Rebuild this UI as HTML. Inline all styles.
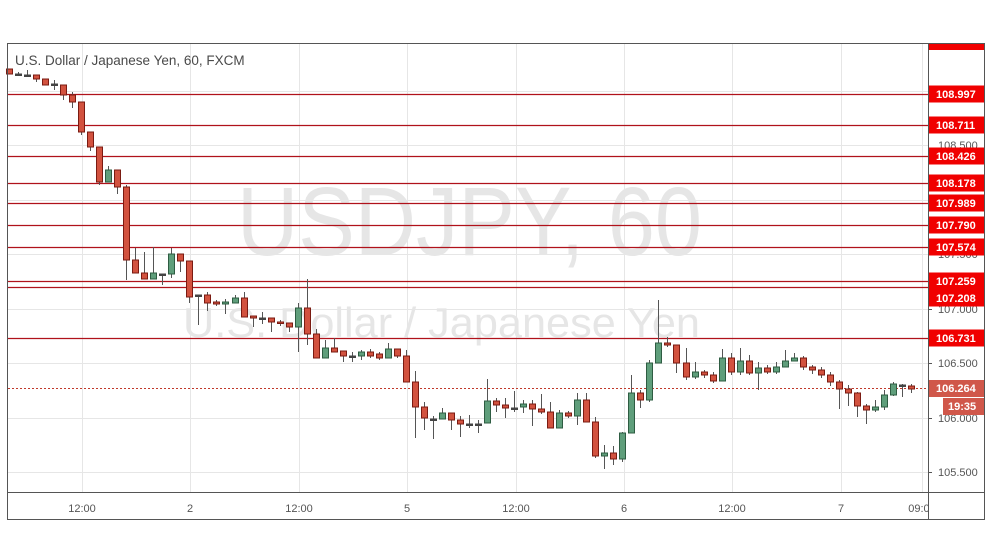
<!DOCTYPE html>
<html><head><meta charset="utf-8"><style>
html,body{margin:0;padding:0;background:#fff;}
svg{display:block;font-family:"Liberation Sans",sans-serif;}
</style></head><body>
<svg id="s" width="991" height="556" viewBox="0 0 991 556" xmlns="http://www.w3.org/2000/svg">
<defs><clipPath id="cp"><rect x="0" y="0" width="928" height="556"/></clipPath></defs>
<rect width="991" height="556" fill="#fff"/>
<g stroke="#e6e6e6" stroke-width="1">
<line x1="82.5" y1="44" x2="82.5" y2="493"/><line x1="190.5" y1="44" x2="190.5" y2="493"/><line x1="299.5" y1="44" x2="299.5" y2="493"/><line x1="407.5" y1="44" x2="407.5" y2="493"/><line x1="516.5" y1="44" x2="516.5" y2="493"/><line x1="624.5" y1="44" x2="624.5" y2="493"/><line x1="732.5" y1="44" x2="732.5" y2="493"/><line x1="841.5" y1="44" x2="841.5" y2="493"/><line x1="922.5" y1="44" x2="922.5" y2="493"/>
<line x1="8" y1="472.5" x2="928" y2="472.5"/><line x1="8" y1="418.5" x2="928" y2="418.5"/><line x1="8" y1="363.5" x2="928" y2="363.5"/><line x1="8" y1="309.5" x2="928" y2="309.5"/><line x1="8" y1="254.5" x2="928" y2="254.5"/><line x1="8" y1="200.5" x2="928" y2="200.5"/><line x1="8" y1="145.5" x2="928" y2="145.5"/><line x1="8" y1="91.5" x2="928" y2="91.5"/>
</g>
<text x="237" y="255" font-size="97" fill="#e6e6e6" textLength="465" lengthAdjust="spacingAndGlyphs">USDJPY, 60</text>
<text x="183" y="337" font-size="42" fill="#e6e6e6" textLength="517" lengthAdjust="spacingAndGlyphs">U.S. Dollar / Japanese Yen</text>
<text x="15" y="65" font-size="13.5" fill="#4a4a4a">U.S. Dollar / Japanese Yen, 60, FXCM</text>
<g id="lv" stroke="#b0121b" stroke-width="1.3"></g>
<line x1="8" y1="388.5" x2="928" y2="388.5" stroke="#c0392b" stroke-width="1" stroke-dasharray="2,2"/>
<g id="cd"></g>
<rect x="7.5" y="43.5" width="977" height="476" fill="none" stroke="#555" stroke-width="1"/>
<line x1="928.5" y1="43" x2="928.5" y2="520" stroke="#555"/>
<line x1="7" y1="492.5" x2="985" y2="492.5" stroke="#555"/>
<g font-size="11" fill="#555" text-anchor="start">
<text x="938" y="367">106.500</text><text x="938" y="422">106.000</text><text x="938" y="476">105.500</text><text x="938" y="313">107.000</text><text x="938" y="258">107.500</text><text x="938" y="149">108.500</text>
</g>
<g stroke="#555"><line x1="928" y1="363.5" x2="932" y2="363.5"/><line x1="928" y1="418.5" x2="932" y2="418.5"/><line x1="928" y1="472.5" x2="932" y2="472.5"/><line x1="928" y1="309.5" x2="932" y2="309.5"/></g>
<g id="lb" font-size="11" font-weight="bold" fill="#fff"></g>
<rect x="929" y="380" width="55" height="17" fill="#d0574a"/>
<text x="936" y="392" font-size="11" font-weight="bold" fill="#fff">106.264</text>
<rect x="943" y="398" width="41" height="17" fill="#d0574a"/>
<text x="948" y="410" font-size="11" font-weight="bold" fill="#fff">19:35</text>
<g font-size="11" fill="#555" text-anchor="middle">
<text x="82" y="512">12:00</text><text x="190" y="512">2</text><text x="299" y="512">12:00</text><text x="407" y="512">5</text><text x="516" y="512">12:00</text><text x="624" y="512">6</text><text x="732" y="512">12:00</text><text x="841" y="512">7</text>
<g clip-path="url(#cp)"><text x="922" y="512">09:00</text></g>
</g>
</svg>
<script>
var NS="http://www.w3.org/2000/svg";
function el(p,t,a){var e=document.createElementNS(NS,t);for(var k in a)e.setAttribute(k,a[k]);p.appendChild(e);return e;}
var lv=[["108.997",94,94],["108.711",125,125],["108.426",156,156],["108.178",183,183],["107.989",203,203],["107.790",225,225],["107.574",247,247],["107.259",281,281],["107.208",287,298],["106.731",338,338]];
var g=document.getElementById("lv"),lb=document.getElementById("lb");
el(lb,"rect",{x:929,y:44,width:55,height:6,fill:"#f00000"});
lv.forEach(function(l){el(g,"line",{x1:8,x2:929,y1:l[1]+.5,y2:l[1]+.5});
el(lb,"rect",{x:929,y:l[2]-8.5,width:55,height:17,fill:"#f00000"});
var t=el(lb,"text",{x:936,y:l[2]+4});t.textContent=l[0];});
var d=[[69,74],[74,74,72,76],[75,75,70,77],[75,79,75,82],[79,85],[84,84,80,90],[85,95,85,100],[95,102,92,108],[102,132,102,135],[132,147,132,151],[147,182,147,185],[182,170,166,182],[170,187,170,194],[187,260,185,280],[260,273,248,273],[273,279,252,279],[279,273,247,279],[274,274,274,285],[274,254,248,278],[254,261,254,272],
[261,297,261,303],[295,295,295,325],[295,303,292,311],[302,304,300,306],[304,302,299,314],[303,298,295,303],[298,317,292,317],[316,318,316,327],[318,318,312,324],[318,322,318,332],[322,323,320,326],[323,327,323,332],[327,308,303,352],[308,334,279,345],[334,358,329,358],[358,348,340,358],[348,352,338,352],[351,356,351,362],[356,356,352,362],[356,352,350,360],[352,356,349,358],[354,358,352,360],[358,349,343,358],[349,356,349,358],[356,382,350,382],[382,407,371,438],[407,418,402,430],[419,419,416,439],[419,413,408,419],[413,420,413,430],[420,424,416,437],[424,424,415,428],[424,424,420,433],[423,401,379,423],
[401,405,398,412],[405,408,398,418],[408,408,391,412],[407,404,400,413],[404,409,400,426],[409,412,394,414],[412,428,402,428],[428,413,410,428],[413,416,411,418],[416,400,393,425],[400,422,393,422],[422,456,417,458],[456,453,445,469],[453,459,446,465],[459,433,432,462],[433,393,375,433],[393,400,390,408],[400,363,360,402],[363,343,300,363],[343,345,337,347],[345,363,345,373],[363,377,348,380],[377,372,362,379],[372,375,370,378],[375,381,372,383],[381,358,349,381],[358,372,353,375],[372,361,348,375],[361,373,355,375],[373,368,362,390],[368,372,365,374],[372,367,362,374],[367,361,350,367],[361,358,353,361],[358,367,356,370],[367,370,365,374],[370,375,367,378],[375,382,372,386],[382,389,380,409],[389,393,385,406],[393,406,392,417],[406,410,404,424],[410,407,400,412],[407,395,390,410],[395,384,382,396],[385,385,384,397],[386,389,384,393]];
var cd=document.getElementById("cd");
d.forEach(function(c,i){var x=Math.round(9+i*9.02),o=c[0],cl=c[1],h=c.length>2?c[2]:Math.min(o,cl),l=c.length>3?c[3]:Math.max(o,cl);
var up=cl<o;var col=up?"#5f9e7b":"#d2523f",bd=up?"#2e5c42":"#7a1b12";
el(cd,"line",{x1:x+.5,x2:x+.5,y1:h,y2:l,stroke:"#555","stroke-width":1});
var t=Math.min(o,cl),bh=Math.max(1.5,Math.abs(o-cl));
el(cd,"rect",{x:x-2.5,y:t,width:6,height:bh,fill:(o==cl?"#444":col),stroke:(o==cl?"#444":bd),"stroke-width":1});});
</script>
</body></html>
